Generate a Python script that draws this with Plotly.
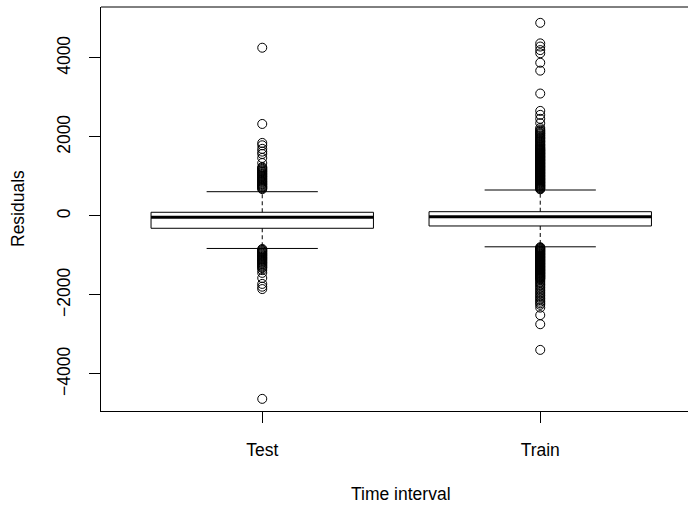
import plotly.graph_objects as go

# Residual summaries per time interval
categories = ["Test", "Train"]
q1 = [-311, -253]
medians = [-33, -18]
q3 = [94, 109]
whisker_low = [-822, -780]
whisker_high = [615, 658]

# Points beyond the whiskers
test_outliers = [4260, 2330, 1850, 1790, 1700, 1630, 1570, 1470, 1340,
                 1240, 1220, 1195, 1175, 1150, 1130, 1110, 1085, 1065, 1045,
                 1020, 1000, 980, 955, 935, 915, 890, 870, 850, 825, 805, 785,
                 760, 740, 720, 700, 680,
                 -835, -855, -875, -895, -915, -935, -955, -975, -995, -1015,
                 -1035, -1055, -1075, -1095, -1115, -1135, -1160, -1180,
                 -1200, -1225, -1250, -1275, -1300, -1320, -1370, -1440,
                 -1570, -1720, -1790, -1850, -4630]
train_outliers = [4890, 4370, 4290, 4200, 4120, 3880, 3680, 3100, 2660, 2560,
                  2460, 2350, 2230, 2190, 2160, 2140, 2110, 2090, 2070, 2040,
                  2020, 1990, 1970, 1950, 1920, 1900, 1880, 1860, 1830, 1810,
                  1790, 1770, 1750, 1730, 1710, 1695, 1680, 1664, 1650, 1633,
                  1620, 1604, 1590, 1575, 1561, 1544, 1530, 1516, 1500, 1487,
                  1470, 1456, 1440, 1426, 1410, 1396, 1380, 1366, 1350, 1335,
                  1320, 1306, 1290, 1276, 1260, 1245, 1230, 1216, 1200, 1186,
                  1170, 1155, 1140, 1126, 1110, 1095, 1080, 1066, 1050, 1035,
                  1020, 1006, 990, 975, 960, 946, 930, 915, 900, 886, 870,
                  855, 840, 826, 810, 795, 780, 766, 750, 735, 720, 706, 690,
                  676,
                  -790, -805, -820, -836, -850, -865, -880, -896, -910, -925,
                  -940, -956, -970, -985, -1000, -1016, -1030, -1045, -1060,
                  -1076, -1090, -1105, -1120, -1136, -1150, -1165, -1180,
                  -1196, -1210, -1225, -1240, -1256, -1270, -1285, -1300,
                  -1316, -1330, -1345, -1360, -1376, -1390, -1405, -1420,
                  -1436, -1450, -1465, -1480, -1496, -1510, -1525, -1540,
                  -1556, -1570, -1585, -1600, -1630, -1665, -1700, -1735,
                  -1770, -1810, -1850, -1890, -1930, -1970, -2010, -2050,
                  -2090, -2130, -2170, -2210, -2250, -2320, -2510, -2740,
                  -3390]
outliers = [test_outliers, train_outliers]

BOX_HALF = 0.4     # half of box width
CAP_HALF = 0.2     # half of whisker cap width
INK = "black"

fig = go.Figure()

for i, name in enumerate(categories):
    p = i + 1
    line = dict(color=INK, width=1)
    # box body
    fig.add_trace(go.Scatter(
        x=[p - BOX_HALF, p + BOX_HALF, p + BOX_HALF, p - BOX_HALF, p - BOX_HALF],
        y=[q1[i], q1[i], q3[i], q3[i], q1[i]],
        mode="lines", line=line, hoverinfo="skip"))
    # median
    fig.add_trace(go.Scatter(
        x=[p - BOX_HALF, p + BOX_HALF], y=[medians[i], medians[i]],
        mode="lines", line=dict(color=INK, width=3), hoverinfo="skip"))
    # dashed whiskers
    for a, b in ((q3[i], whisker_high[i]), (q1[i], whisker_low[i])):
        fig.add_trace(go.Scatter(
            x=[p, p], y=[a, b], mode="lines",
            line=dict(color=INK, width=1, dash="4px,3px"), hoverinfo="skip"))
    # whisker caps
    for v in (whisker_high[i], whisker_low[i]):
        fig.add_trace(go.Scatter(
            x=[p - CAP_HALF, p + CAP_HALF], y=[v, v], mode="lines",
            line=line, hoverinfo="skip"))
    # outliers
    fig.add_trace(go.Scatter(
        x=[p] * len(outliers[i]), y=outliers[i], mode="markers",
        marker=dict(symbol="circle-open", size=9, color=INK,
                    line=dict(width=1, color=INK)),
        name=name))

axis_common = dict(
    showgrid=False, zeroline=False, showline=True, linecolor=INK, linewidth=1,
    ticks="outside", ticklen=11, tickcolor=INK, tickwidth=1,
    tickfont=dict(size=17.5, color=INK),
)

fig.update_layout(
    width=688, height=508,
    margin=dict(l=101, r=0, t=7, b=97),
    plot_bgcolor="white", paper_bgcolor="white",
    showlegend=False,
    font=dict(family="Liberation Sans, Arial, sans-serif", size=17.5, color=INK),
    xaxis=dict(range=[0.42, 2.5315], tickvals=[1, 2], ticktext=categories,
               ticklabelstandoff=12, **axis_common),
    yaxis=dict(range=[-4937, 5291], tickvals=[-4000, -2000, 0, 2000, 4000],
               tickangle=-90, ticklabelstandoff=12, **axis_common),
    shapes=[dict(type="line", xref="paper", yref="paper", x0=0, x1=1, y0=1, y1=1,
                 line=dict(color=INK, width=1))],
    annotations=[
        dict(text="Time interval", x=1.5, xref="x", y=0, yref="paper",
             yanchor="middle", yshift=-83, showarrow=False,
             font=dict(size=17.5, color=INK)),
        dict(text="Residuals", x=0, xref="paper", xanchor="center", xshift=-83,
             y=0.5, yref="paper", textangle=-90, showarrow=False,
             font=dict(size=17.5, color=INK)),
    ],
)

fig.write_html("out.html")
